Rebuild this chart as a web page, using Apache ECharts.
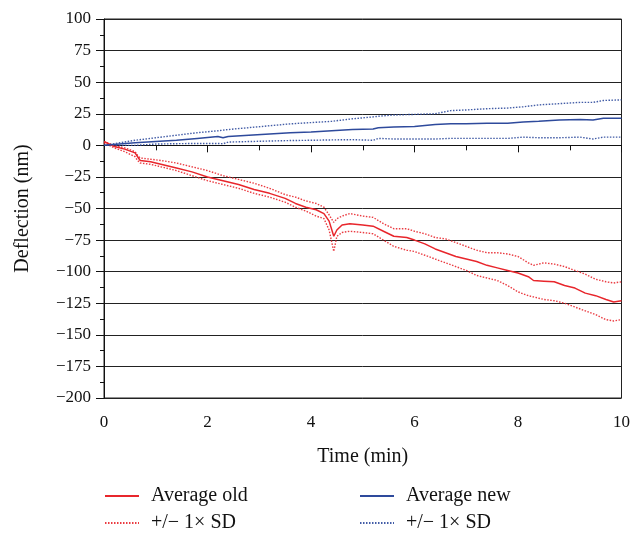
<!DOCTYPE html>
<html><head><meta charset="utf-8">
<script src="https://cdn.jsdelivr.net/npm/echarts@6/dist/echarts.min.js"></script>
<style>html,body{margin:0;padding:0;background:#fff}#c{width:633px;height:536px}</style>
</head><body><div id="c"></div>
<script>
var tOld = [0,0.2,0.4,0.6,0.65,0.7,0.9,1.1,1.4,1.7,2.0,2.3,2.6,2.9,3.2,3.5,3.7,3.9,4.1,4.25,4.35,4.44,4.5,4.6,4.75,5.0,5.2,5.4,5.6,5.85,6.0,6.2,6.4,6.6,6.8,7.0,7.2,7.4,7.6,7.8,8.0,8.2,8.3,8.5,8.7,8.9,9.1,9.3,9.5,9.7,9.85,10.0];
var avgOld = [3,-1,-3,-6,-9,-12,-13,-15,-18,-21,-25,-28,-31,-35,-38,-42,-46,-49,-51,-54,-60,-72,-67,-63,-62,-63,-64,-68,-72,-73,-75,-78,-82,-85,-88,-90,-92,-95,-97,-99,-101,-104,-107,-107.5,-108,-111,-113,-117,-119,-122,-124,-123];
var upOld = [3,0,-2,-5,-8,-10,-11,-12,-14,-17,-20,-24,-27,-30,-34,-39,-41,-44,-46,-49,-55,-61,-58,-56,-54,-56,-57,-62,-66,-66,-68,-70,-73,-74,-77,-80,-83,-85,-85,-86,-88,-93,-95,-93,-94,-96,-99,-102,-106,-108,-109,-108];
var loOld = [2,-2,-5,-9,-12,-14,-15,-17,-20,-24,-28,-31,-34,-38,-41,-45,-49,-52,-56,-58,-67,-84,-72,-69,-68,-69,-70,-75,-80,-83,-84,-87,-90,-93,-96,-99,-103,-105,-107,-111,-116,-119,-120,-122,-123,-125,-128,-131,-134,-138,-139,-138];
var tNew = [0,0.3,0.6,1.0,1.4,1.8,2.2,2.3,2.4,2.8,3.2,3.6,4.0,4.4,4.8,5.2,5.3,5.6,6.0,6.4,6.7,7.0,7.4,7.8,8.1,8.4,8.8,9.2,9.45,9.65,10.0];
var avgNew = [0,1,2,3,4,5.5,7,6,7,8,9,10,10.5,11.5,12.5,13,14,14.5,15,16.5,17,17,17.5,17.5,18.5,19,20,20.5,20,21.5,21.5];
var upNew = [0,2,4,6,8,10,11.5,12,12.5,14,15.5,17,18,19,21,22.5,23,24,24.5,25,27.5,28,29,29.5,30.5,32,33,34,34,35.5,36];
var loNew = [0,0,0,1,1.3,1.5,1.5,1.2,2.6,3,3.4,3.8,4,4.3,4.5,4,5.5,5,5,5,5.5,5.5,5.5,5.5,6.5,6,6,6.5,5,6.5,6.5];
var seriesNames = ['Average old','sdOld','Average new','sdNew'];
var sdLabel = '+/\u2212 1\u00d7 SD';

function pairs(t, v){ return t.map(function(x,i){ return [x, v[i]]; }); }
var RED = '#e8262c', BLUE = '#2e4a9c';
var FONT = 'Liberation Serif';

function mk(name, t, v, color, dotted){
  return {
    name: name, type: 'line', data: pairs(t, v), symbol: 'none', smooth: false,
    lineStyle: {color: color, width: dotted ? 1.4 : 1.5, type: dotted ? [1.5, 1.5] : 'solid', opacity: dotted ? 0.9 : 1},
    itemStyle: {color: color}, animation: false, z: dotted ? 2 : 3
  };
}

function lg(name, left, top){
  return {
    left: left, top: top, itemWidth: 34, itemHeight: 14,
    data: [name], selectedMode: false,
    itemStyle: {opacity: 0},
    textStyle: {fontFamily: FONT, fontSize: 20, color: '#111', padding: [0,0,0,7]},
    formatter: function(n){ return (n === 'sdOld' || n === 'sdNew') ? sdLabel : n; }
  };
}

var chart = echarts.init(document.getElementById('c'), null, {renderer: 'canvas'});
chart.setOption({
  animation: false,
  textStyle: {fontFamily: FONT},
  grid: {left: 104, right: 11, top: 19, bottom: 138, show: true, borderColor: '#222', borderWidth: 1},
  legend: [
    lg(seriesNames[0], 99, 481),
    lg(seriesNames[1], 99, 508),
    lg(seriesNames[2], 354, 481),
    lg(seriesNames[3], 354, 508)
  ],
  xAxis: {
    type: 'value', min: 0, max: 10, interval: 2,
    name: 'Time (min)', nameLocation: 'middle', nameGap: 49,
    nameTextStyle: {fontFamily: FONT, fontSize: 20, color: '#111'},
    axisLine: {lineStyle: {color: '#111', width: 1}},
    axisTick: {show: true, length: 7, lineStyle: {color: '#111'}},
    minorTick: {show: true, splitNumber: 2, length: 5, lineStyle: {color: '#111'}},
    axisLabel: {fontFamily: FONT, fontSize: 17, color: '#111', margin: 16},
    splitLine: {show: false}
  },
  yAxis: {
    type: 'value', min: -200, max: 100, interval: 25,
    name: 'Deflection (nm)', nameLocation: 'middle', nameGap: 71,
    nameTextStyle: {fontFamily: FONT, fontSize: 20, color: '#111'},
    axisLine: {lineStyle: {color: '#111', width: 1}},
    axisTick: {show: true, length: 8, lineStyle: {color: '#111'}},
    minorTick: {show: true, splitNumber: 2, length: 4, lineStyle: {color: '#111'}},
    axisLabel: {fontFamily: FONT, fontSize: 17, color: '#111', margin: 13,
      formatter: function(v){ return v < 0 ? '\u2212' + Math.abs(v) : String(v); }},
    splitLine: {show: true, lineStyle: {color: '#222', width: 1}}
  },
  series: [
    mk('sdOld', tOld, upOld, RED, true),
    mk('sdOld', tOld, loOld, RED, true),
    mk('sdNew', tNew, upNew, BLUE, true),
    mk('sdNew', tNew, loNew, BLUE, true),
    mk('Average old', tOld, avgOld, RED, false),
    mk('Average new', tNew, avgNew, BLUE, false)
  ]
});
</script></body></html>
